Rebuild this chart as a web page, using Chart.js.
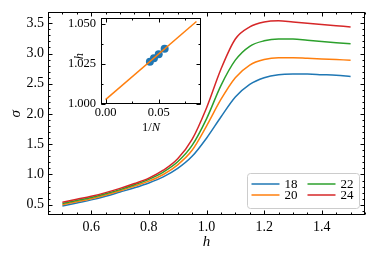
<!DOCTYPE html>
<html>
<head>
<meta charset="utf-8">
<script src="https://cdn.jsdelivr.net/npm/chart.js@4.4.1/dist/chart.umd.min.js"></script>
<style>
  html, body { margin: 0; padding: 0; background: #fff; }
  #wrap { position: relative; width: 374px; height: 258px; }
  #wrap canvas { position: absolute; left: 0; top: 0; }
</style>
</head>
<body>
<div id="wrap">
  <canvas id="mainChart" width="374" height="258"></canvas>
  <canvas id="insetChart" width="374" height="258"></canvas>
</div>
<script>
// main panel: sigma vs h for each system size
const hValues = [0.50, 0.55, 0.60, 0.65, 0.70, 0.75, 0.80, 0.85, 0.90, 0.95, 1.00,
                 1.05, 1.10, 1.15, 1.20, 1.25, 1.30, 1.35, 1.40, 1.45, 1.50];
const sigma18 = [0.48, 0.53, 0.58, 0.64, 0.71, 0.78, 0.86, 0.96, 1.10, 1.30, 1.60,
                 1.95, 2.28, 2.49, 2.60, 2.65, 2.66, 2.66, 2.65, 2.64, 2.62];
const sigma20 = [0.50, 0.55, 0.60, 0.66, 0.73, 0.81, 0.89, 1.00, 1.16, 1.40, 1.80,
                 2.24, 2.60, 2.81, 2.90, 2.93, 2.93, 2.92, 2.91, 2.90, 2.89];
const sigma22 = [0.52, 0.57, 0.62, 0.68, 0.75, 0.83, 0.92, 1.04, 1.21, 1.48, 1.92,
                 2.47, 2.89, 3.12, 3.21, 3.24, 3.24, 3.22, 3.20, 3.18, 3.16];
const sigma24 = [0.54, 0.59, 0.64, 0.70, 0.77, 0.85, 0.94, 1.07, 1.26, 1.58, 2.10,
                 2.74, 3.24, 3.44, 3.52, 3.54, 3.52, 3.50, 3.48, 3.46, 3.44];
const sizes = ['18', '20', '22', '24'];
const colors = ['#1f77b4', '#ff7f0e', '#2ca02c', '#d62728'];
const xTicks = [0.6, 0.8, 1.0, 1.2, 1.4];
const yTicks = [0.5, 1.0, 1.5, 2.0, 2.5, 3.0, 3.5];

// inset: crossing field vs 1/N with linear fit
const invN = [0.0417, 0.0455, 0.0500, 0.0556];
const hCross = [1.0264, 1.0286, 1.0312, 1.0346];
const fitX = [0, 0.0855];
const fitY = [1.0027, 1.0516];
const insetXTicks = [0.00, 0.05];
const insetYTicks = [1.000, 1.025, 1.050];

const serif = 'Liberation Serif';

// frame + inward ticks on all four sides (matplotlib "science" look)
const frameTicks = {
    id: 'frameTicks',
    afterDatasetsDraw(chart, args, opts) {
        const { ctx, chartArea: a, scales: { x, y } } = chart;
        const L = Math.round(a.left) + 0.5, R = Math.round(a.right) - 0.5;
        const T = Math.round(a.top) + 0.5, B = Math.round(a.bottom) - 0.5;
        ctx.save();
        ctx.strokeStyle = '#000';
        ctx.lineWidth = 1;
        ctx.strokeRect(L, T, R - L, B - T);
        ctx.beginPath();
        const xMark = (v, len) => {
            const p = Math.round(x.getPixelForValue(v)) + 0.5;
            ctx.moveTo(p, B); ctx.lineTo(p, B - len);
            ctx.moveTo(p, T); ctx.lineTo(p, T + len);
        };
        const yMark = (v, len) => {
            const p = Math.round(y.getPixelForValue(v)) + 0.5;
            ctx.moveTo(L, p); ctx.lineTo(L + len, p);
            ctx.moveTo(R, p); ctx.lineTo(R - len, p);
        };
        const minors = (scale, step) => {
            const out = [];
            for (let k = Math.ceil(scale.min / step - 1e-9); k * step <= scale.max + 1e-9; k++) out.push(k * step);
            return out;
        };
        minors(x, opts.xMinor).forEach(v => xMark(v, 2));
        minors(y, opts.yMinor).forEach(v => yMark(v, 2));
        opts.xMajor.forEach(v => xMark(v, 4));
        opts.yMajor.forEach(v => yMark(v, 4));
        ctx.stroke();
        ctx.restore();
    }
};

// legend box in the lower right corner, two columns
const cornerLegend = {
    id: 'cornerLegend',
    afterDraw(chart) {
        const { ctx, chartArea: a } = chart;
        const w = 112, hgt = 35;
        const left = a.right - 6 - w, top = a.bottom - 7 - hgt;
        ctx.save();
        ctx.beginPath();
        ctx.roundRect(left + 0.5, top + 0.5, w, hgt, 3);
        ctx.fillStyle = 'rgba(255,255,255,0.8)';
        ctx.fill();
        ctx.strokeStyle = '#cccccc';
        ctx.lineWidth = 1;
        ctx.stroke();
        const grid = [[0, 2], [1, 3]];
        ctx.font = '13px "' + serif + '"';
        ctx.textBaseline = 'middle';
        ctx.fillStyle = '#000';
        grid.forEach((row, r) => {
            row.forEach((i, c) => {
                const yy = top + 11 + r * 11;
                const x0 = left + 4.5 + c * 56;
                ctx.beginPath();
                ctx.strokeStyle = colors[i];
                ctx.lineWidth = 1.5;
                ctx.moveTo(x0, yy);
                ctx.lineTo(x0 + 28, yy);
                ctx.stroke();
                ctx.fillText(sizes[i], x0 + 33, yy + 1);
            });
        });
        ctx.restore();
    }
};

// inset axis titles: "1/N" with italic N, rotated italic h
const insetTitles = {
    id: 'insetTitles',
    afterDraw(chart) {
        const { ctx, chartArea: a } = chart;
        ctx.save();
        ctx.fillStyle = '#000';
        ctx.textBaseline = 'middle';
        const up = '12.5px "' + serif + '"', it = 'italic 12.5px "' + serif + '"';
        ctx.font = up; const w1 = ctx.measureText('1/').width;
        ctx.font = it; const w2 = ctx.measureText('N').width;
        const cx = (a.left + a.right) / 2, start = cx - (w1 + w2) / 2;
        ctx.textAlign = 'left';
        ctx.font = up; ctx.fillText('1/', start, a.bottom + 24);
        ctx.font = it; ctx.fillText('N', start + w1, a.bottom + 24);
        ctx.translate(a.left - 21, a.top + 38);
        ctx.rotate(-Math.PI / 2);
        ctx.textAlign = 'center';
        ctx.fillText('h', 0, 0);
        ctx.restore();
    }
};

function initializeMainChart() {
    const series = [sigma18, sigma20, sigma22, sigma24];
    const ctx = document.getElementById('mainChart').getContext('2d');
    new Chart(ctx, {
        type: 'line',
        data: {
            datasets: series.map((vals, i) => ({
                label: sizes[i],
                data: hValues.map((h, j) => ({ x: h, y: vals[j] })),
                borderColor: colors[i],
                borderWidth: 1.5,
                pointRadius: 0,
                fill: false,
                cubicInterpolationMode: 'monotone',
                order: -i
            }))
        },
        options: {
            responsive: false,
            animation: false,
            events: [],
            layout: { padding: { left: 0, top: 8, right: 9, bottom: 0 } },
            plugins: {
                legend: { display: false },
                tooltip: { enabled: false },
                frameTicks: { xMajor: xTicks, yMajor: yTicks, xMinor: 0.05, yMinor: 0.1 }
            },
            scales: {
                x: {
                    type: 'linear',
                    min: 0.45,
                    max: 1.55,
                    grid: { display: false, drawTicks: false },
                    border: { display: false },
                    afterBuildTicks: s => { s.ticks = xTicks.map(v => ({ value: v })); },
                    afterFit: s => { s.height = 43; },
                    ticks: {
                        padding: 4,
                        color: '#000',
                        maxRotation: 0,
                        font: { family: serif, size: 14 },
                        callback: v => v.toFixed(1)
                    },
                    title: {
                        display: true,
                        text: 'h',
                        color: '#000',
                        font: { family: serif, size: 15, style: 'italic' },
                        padding: { top: 0, bottom: 7 }
                    }
                },
                y: {
                    type: 'linear',
                    min: 0.33,
                    max: 3.68,
                    grid: { display: false, drawTicks: false },
                    border: { display: false },
                    afterBuildTicks: s => { s.ticks = yTicks.map(v => ({ value: v })); },
                    afterFit: s => { s.width = 48; },
                    ticks: {
                        padding: 4,
                        color: '#000',
                        font: { family: serif, size: 14 },
                        callback: v => v.toFixed(1)
                    },
                    title: {
                        display: true,
                        text: 'σ',
                        color: '#000',
                        font: { family: serif, size: 15, style: 'italic' },
                        padding: { top: 7, bottom: 0 }
                    }
                }
            }
        },
        plugins: [frameTicks, cornerLegend]
    });
}

function initializeInsetChart() {
    const ctx = document.getElementById('insetChart').getContext('2d');
    new Chart(ctx, {
        type: 'line',
        data: {
            datasets: [{
                label: 'fit',
                data: fitX.map((v, i) => ({ x: v, y: fitY[i] })),
                borderColor: '#ff7f0e',
                borderWidth: 1.5,
                pointRadius: 0,
                fill: false
            }, {
                label: 'crossings',
                data: invN.map((v, i) => ({ x: v, y: hCross[i] })),
                showLine: false,
                pointRadius: 4,
                pointBackgroundColor: '#1f77b4',
                pointBorderWidth: 0
            }]
        },
        options: {
            responsive: false,
            animation: false,
            events: [],
            layout: { padding: { left: 61, top: 18, right: 173, bottom: 123 } },
            plugins: {
                legend: { display: false },
                tooltip: { enabled: false },
                frameTicks: { xMajor: insetXTicks, yMajor: insetYTicks, xMinor: 0.025, yMinor: 0.0125 }
            },
            scales: {
                x: {
                    type: 'linear',
                    min: -0.0043,
                    max: 0.0898,
                    grid: { display: false, drawTicks: false },
                    border: { display: false },
                    afterBuildTicks: s => { s.ticks = insetXTicks.map(v => ({ value: v })); },
                    afterFit: s => { s.height = 31; },
                    ticks: {
                        padding: 1,
                        color: '#000',
                        maxRotation: 0,
                        font: { family: serif, size: 12.5 },
                        callback: v => v.toFixed(2)
                    }
                },
                y: {
                    type: 'linear',
                    min: 1.0,
                    max: 1.0538,
                    grid: { display: false, drawTicks: false },
                    border: { display: false },
                    afterBuildTicks: s => { s.ticks = insetYTicks.map(v => ({ value: v })); },
                    afterFit: s => { s.width = 40; },
                    ticks: {
                        padding: 5,
                        color: '#000',
                        font: { family: serif, size: 12.5 },
                        callback: v => v.toFixed(3)
                    }
                }
            }
        },
        plugins: [frameTicks, insetTitles]
    });
}

document.addEventListener('DOMContentLoaded', () => {
    initializeMainChart();
    initializeInsetChart();
});
</script>
</body>
</html>
